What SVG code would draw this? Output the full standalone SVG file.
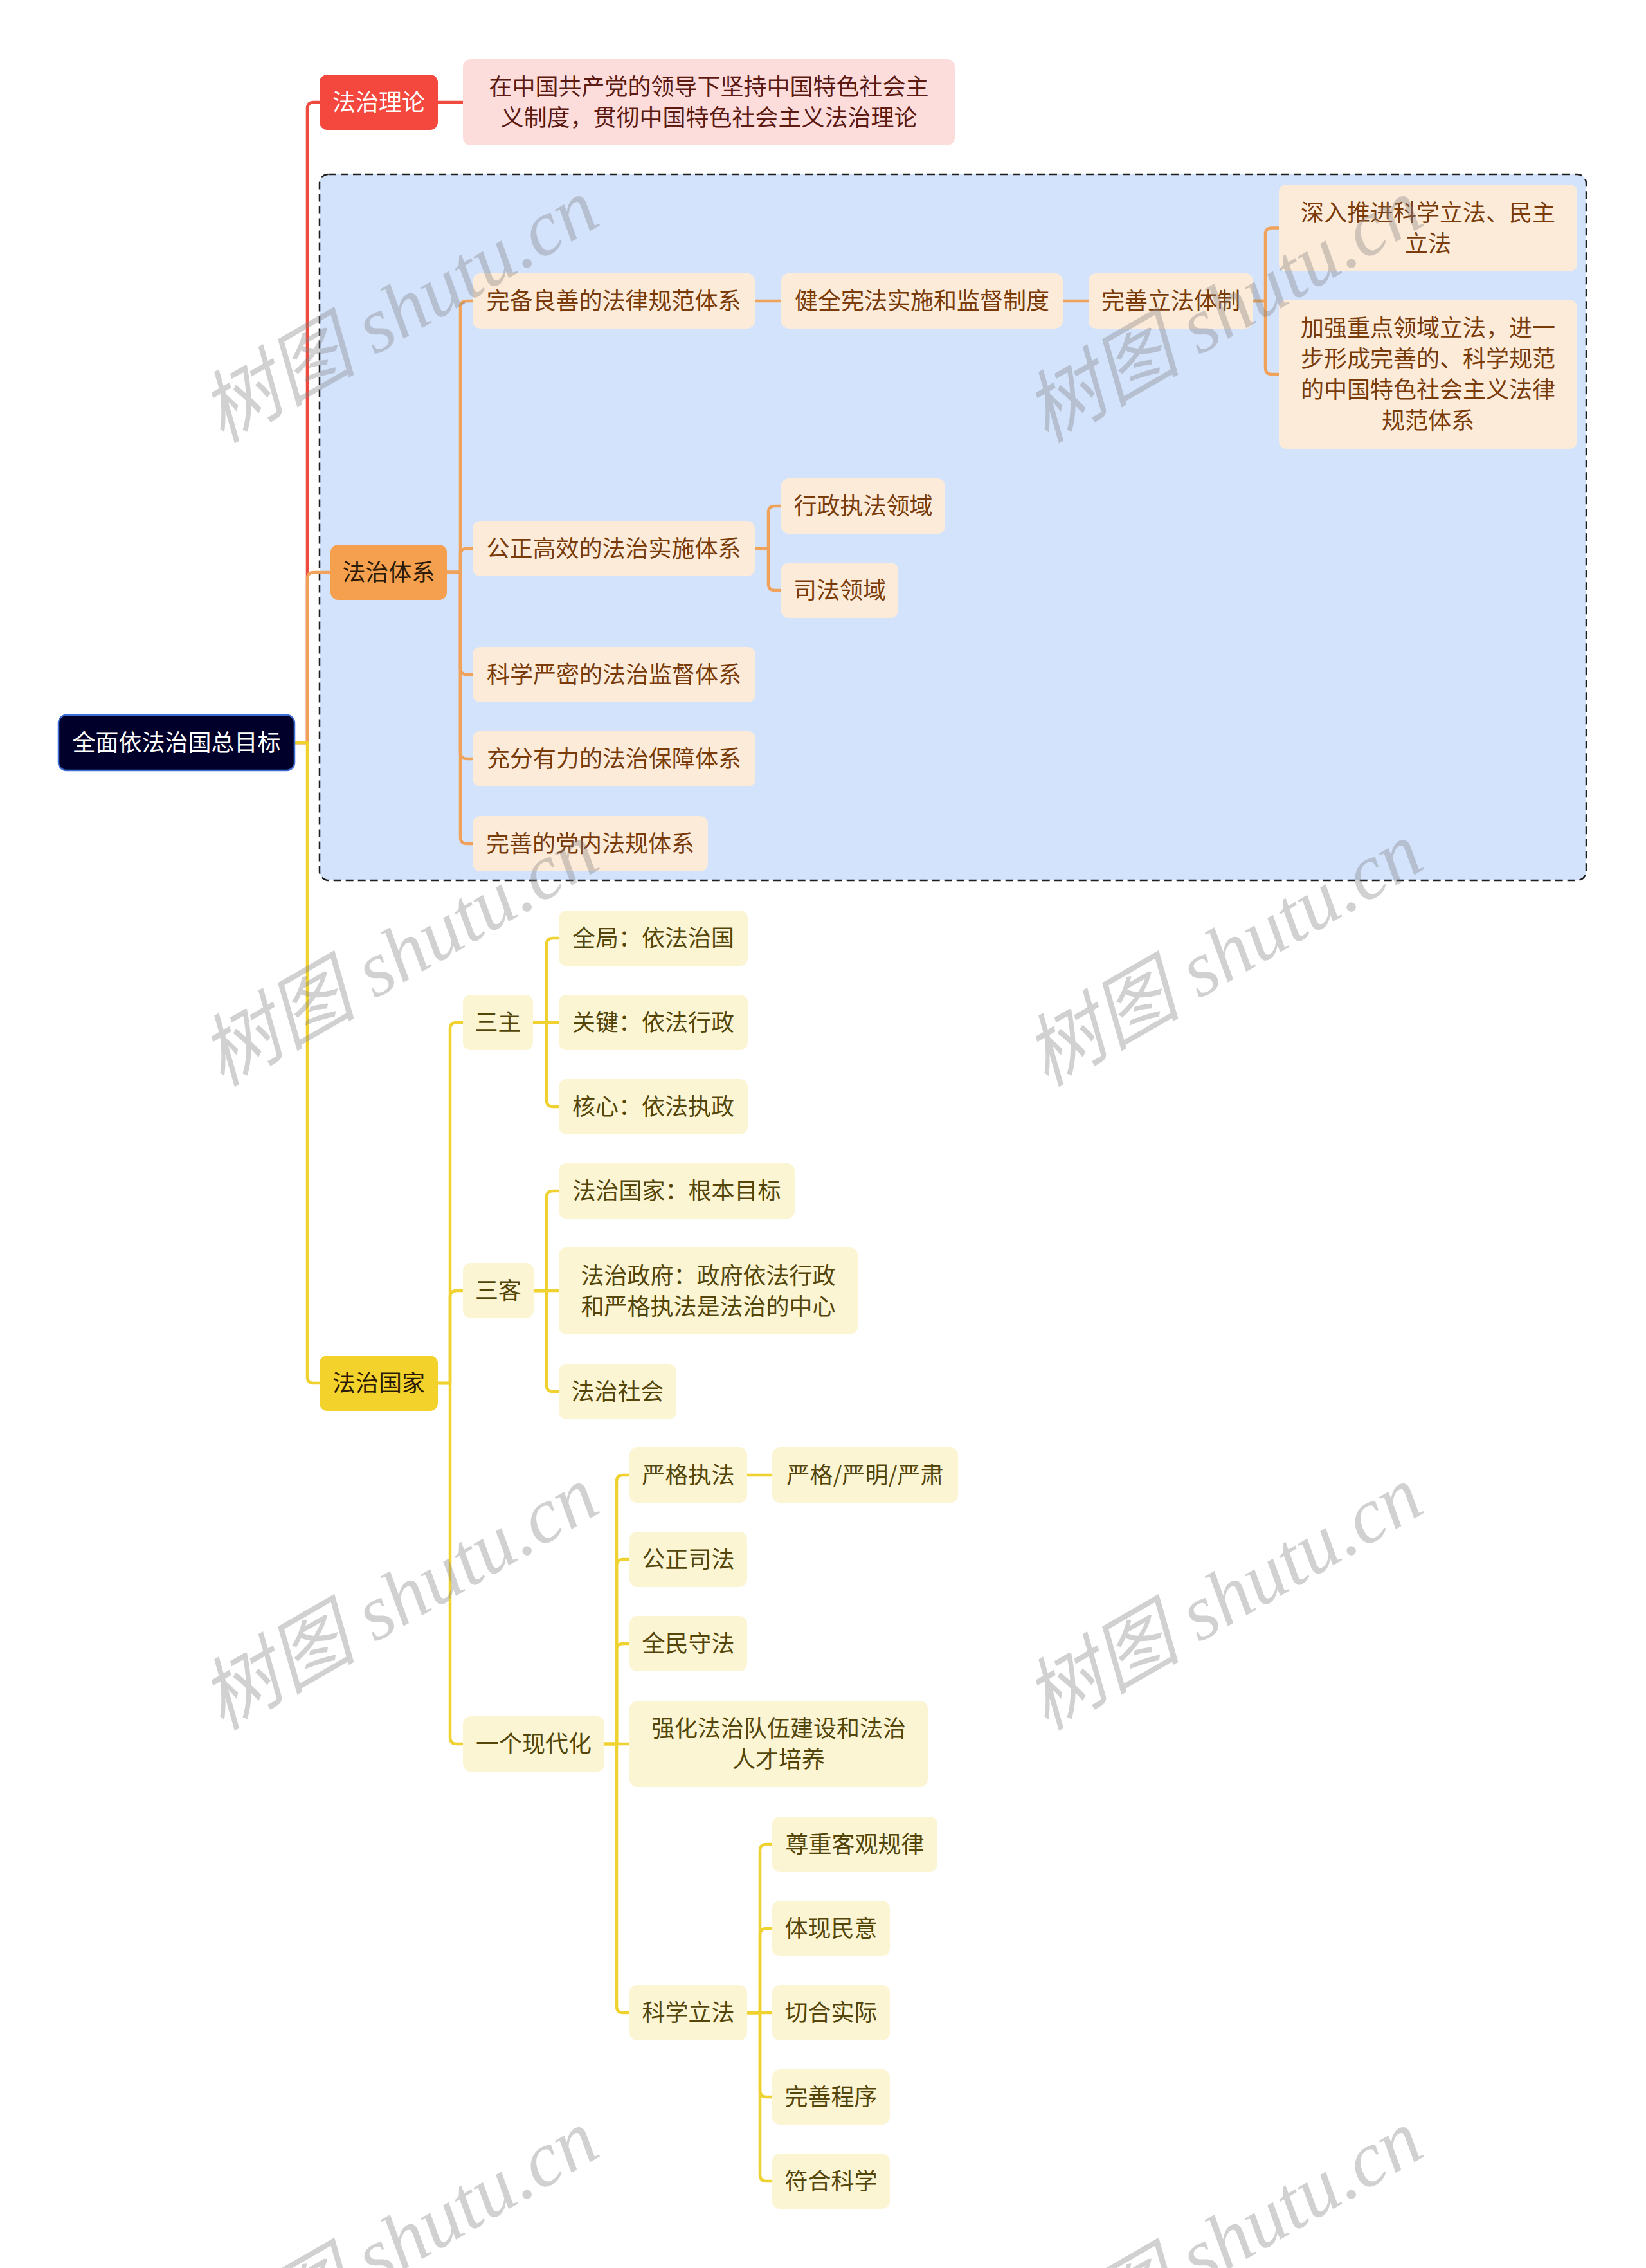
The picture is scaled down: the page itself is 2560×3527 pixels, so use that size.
<svg xmlns="http://www.w3.org/2000/svg" width="2560" height="3527" viewBox="0 0 2560 3527">
<style>
.t{font-family:"Noto Sans CJK SC","Noto Sans",sans-serif;font-size:36px;text-anchor:middle}
.w{fill:#ffffff}
.cr{fill:#5c1a12}
.co{fill:#7a3b0a}
.cy{fill:#54460a}
.cd{fill:#2b1a05}
.root{fill:#00002a;stroke:#3f6fd6;stroke-width:2.5}
.red{fill:#f4473e}
.pink{fill:#fddcdc}
.orange{fill:#f5a04f}
.peach{fill:#fdebd9}
.yellow{fill:#f3d22c}
.lyellow{fill:#fcf5d3}
.ln{fill:none;stroke-width:4.5;stroke-linejoin:round}
.lr{stroke:#ee4a3f}
.lo{stroke:#f0a25a}
.ly{stroke:#efd22f}
.wm{font-family:"Liberation Serif","Noto Sans CJK SC",serif;font-style:italic;font-size:122px;fill:#808080;fill-opacity:0.36}
</style>
<rect width="2560" height="3527" fill="#ffffff"/>
<g id="container">
<rect x="497" y="271" width="1970" height="1098" rx="14" fill="#d3e3fc" stroke="#1e1e1e" stroke-width="2.5" stroke-dasharray="12 7"/>
</g>
<g id="connectors" class="ln">
<path class="ln lr" d="M458,1155 H478 V169 Q478,159 488,159 H497"/>
<path class="ln lo" d="M458,1155 H478 V900 Q478,890 488,890 H514"/>
<path class="ln ly" d="M458,1155 H478 V2141 Q478,2151 488,2151 H497"/>
<path class="ln lr" d="M681,159 H720"/>
<path class="ln lo" d="M695,890 H716 V478 Q716,468 726,468 H735"/>
<path class="ln lo" d="M695,890 H716 V863 Q716,853 726,853 H735"/>
<path class="ln lo" d="M695,890 H716 V1039 Q716,1049 726,1049 H735"/>
<path class="ln lo" d="M695,890 H716 V1170 Q716,1180 726,1180 H735"/>
<path class="ln lo" d="M695,890 H716 V1302 Q716,1312 726,1312 H735"/>
<path class="ln lo" d="M1174,468 H1215"/>
<path class="ln lo" d="M1653,468 H1693"/>
<path class="ln lo" d="M1949,468 H1968 V364.5 Q1968,354.5 1978,354.5 H1989"/>
<path class="ln lo" d="M1949,468 H1968 V572 Q1968,582 1978,582 H1989"/>
<path class="ln lo" d="M1174,853 H1195 V797 Q1195,787 1205,787 H1215"/>
<path class="ln lo" d="M1174,853 H1195 V908 Q1195,918 1205,918 H1215"/>
<path class="ln ly" d="M681,2151 H700 V1600 Q700,1590 710,1590 H720"/>
<path class="ln ly" d="M681,2151 H700 V2017 Q700,2007 710,2007 H720"/>
<path class="ln ly" d="M681,2151 H700 V2702 Q700,2712 710,2712 H720"/>
<path class="ln ly" d="M829,1590 H850 V1469 Q850,1459 860,1459 H869"/>
<path class="ln ly" d="M829,1590 H869"/>
<path class="ln ly" d="M829,1590 H850 V1711 Q850,1721 860,1721 H869"/>
<path class="ln ly" d="M830,2007 H850 V1862 Q850,1852 860,1852 H869"/>
<path class="ln ly" d="M830,2007 H869"/>
<path class="ln ly" d="M830,2007 H850 V2154 Q850,2164 860,2164 H869"/>
<path class="ln ly" d="M940,2712 H959 V2304 Q959,2294 969,2294 H979"/>
<path class="ln ly" d="M940,2712 H959 V2435 Q959,2425 969,2425 H979"/>
<path class="ln ly" d="M940,2712 H959 V2566 Q959,2556 969,2556 H979"/>
<path class="ln ly" d="M940,2712 H979"/>
<path class="ln ly" d="M940,2712 H959 V3120 Q959,3130 969,3130 H979"/>
<path class="ln ly" d="M1162,2294 H1201"/>
<path class="ln ly" d="M1162,3130 H1182 V2878 Q1182,2868 1192,2868 H1201"/>
<path class="ln ly" d="M1162,3130 H1182 V3009 Q1182,2999 1192,2999 H1201"/>
<path class="ln ly" d="M1162,3130 H1201"/>
<path class="ln ly" d="M1162,3130 H1182 V3251 Q1182,3261 1192,3261 H1201"/>
<path class="ln ly" d="M1162,3130 H1182 V3382 Q1182,3392 1192,3392 H1201"/>
</g>
<g id="root"><rect class="root" x="91" y="1112" width="367" height="86" rx="12"/><text class="t w" x="274.5" y="1168">全面依法治国总目标</text></g>
<g id="n-lilun"><rect class="red" x="497" y="116" width="184" height="86" rx="12"/><text class="t w" x="589" y="172">法治理论</text></g>
<g id="n-lilun-1"><rect class="pink" x="720" y="92" width="765" height="134" rx="12"/><text class="t cr" x="1102.5" y="148">在中国共产党的领导下坚持中国特色社会主</text><text class="t cr" x="1102.5" y="196">义制度，贯彻中国特色社会主义法治理论</text></g>
<g id="n-tixi"><rect class="orange" x="514" y="847" width="181" height="86" rx="12"/><text class="t cd" x="604.5" y="903">法治体系</text></g>
<g id="n-wanbei"><rect class="peach" x="735" y="425" width="439" height="86" rx="12"/><text class="t co" x="954.5" y="481">完备良善的法律规范体系</text></g>
<g id="n-jianquan"><rect class="peach" x="1215" y="425" width="438" height="86" rx="12"/><text class="t co" x="1434" y="481">健全宪法实施和监督制度</text></g>
<g id="n-wanshan-lifa"><rect class="peach" x="1693" y="425" width="256" height="86" rx="12"/><text class="t co" x="1821" y="481">完善立法体制</text></g>
<g id="n-shenru"><rect class="peach" x="1989" y="287" width="464" height="135" rx="12"/><text class="t co" x="2221" y="343.5">深入推进科学立法、民主</text><text class="t co" x="2221" y="391.5">立法</text></g>
<g id="n-jiaqiang"><rect class="peach" x="1989" y="466" width="464" height="232" rx="12"/><text class="t co" x="2221" y="523">加强重点领域立法，进一</text><text class="t co" x="2221" y="571">步形成完善的、科学规范</text><text class="t co" x="2221" y="619">的中国特色社会主义法律</text><text class="t co" x="2221" y="667">规范体系</text></g>
<g id="n-gongzheng"><rect class="peach" x="735" y="810" width="439" height="86" rx="12"/><text class="t co" x="954.5" y="866">公正高效的法治实施体系</text></g>
<g id="n-xingzheng"><rect class="peach" x="1215" y="744" width="255" height="86" rx="12"/><text class="t co" x="1342.5" y="800">行政执法领域</text></g>
<g id="n-sifa"><rect class="peach" x="1215" y="875" width="182" height="86" rx="12"/><text class="t co" x="1306" y="931">司法领域</text></g>
<g id="n-jiandu"><rect class="peach" x="735" y="1006" width="440" height="86" rx="12"/><text class="t co" x="955" y="1062">科学严密的法治监督体系</text></g>
<g id="n-baozhang"><rect class="peach" x="735" y="1137" width="440" height="86" rx="12"/><text class="t co" x="955" y="1193">充分有力的法治保障体系</text></g>
<g id="n-dangnei"><rect class="peach" x="735" y="1269" width="366" height="86" rx="12"/><text class="t co" x="918" y="1325">完善的党内法规体系</text></g>
<g id="n-guojia"><rect class="yellow" x="497" y="2108" width="184" height="86" rx="12"/><text class="t cd" x="589" y="2164">法治国家</text></g>
<g id="n-sanzhu"><rect class="lyellow" x="720" y="1547" width="109" height="86" rx="12"/><text class="t cy" x="774.5" y="1603">三主</text></g>
<g id="n-quanju"><rect class="lyellow" x="869" y="1416" width="294" height="86" rx="12"/><text class="t cy" x="1016" y="1472">全局：依法治国</text></g>
<g id="n-guanjian"><rect class="lyellow" x="869" y="1547" width="294" height="86" rx="12"/><text class="t cy" x="1016" y="1603">关键：依法行政</text></g>
<g id="n-hexin"><rect class="lyellow" x="869" y="1678" width="294" height="86" rx="12"/><text class="t cy" x="1016" y="1734">核心：依法执政</text></g>
<g id="n-sanke"><rect class="lyellow" x="720" y="1964" width="110" height="86" rx="12"/><text class="t cy" x="775" y="2020">三客</text></g>
<g id="n-genben"><rect class="lyellow" x="869" y="1809" width="367" height="86" rx="12"/><text class="t cy" x="1052.5" y="1865">法治国家：根本目标</text></g>
<g id="n-zhengfu"><rect class="lyellow" x="869" y="1940" width="465" height="135" rx="12"/><text class="t cy" x="1101.5" y="1996.5">法治政府：政府依法行政</text><text class="t cy" x="1101.5" y="2044.5">和严格执法是法治的中心</text></g>
<g id="n-shehui"><rect class="lyellow" x="869" y="2121" width="183" height="86" rx="12"/><text class="t cy" x="960.5" y="2177">法治社会</text></g>
<g id="n-xiandaihua"><rect class="lyellow" x="720" y="2669" width="220" height="86" rx="12"/><text class="t cy" x="830" y="2725">一个现代化</text></g>
<g id="n-yange"><rect class="lyellow" x="979" y="2251" width="183" height="86" rx="12"/><text class="t cy" x="1070.5" y="2307">严格执法</text></g>
<g id="n-yange-1"><rect class="lyellow" x="1201" y="2251" width="289" height="86" rx="12"/><text class="t cy" x="1345.5" y="2307">严格/严明/严肃</text></g>
<g id="n-gongzheng-sifa"><rect class="lyellow" x="979" y="2382" width="183" height="86" rx="12"/><text class="t cy" x="1070.5" y="2438">公正司法</text></g>
<g id="n-quanmin"><rect class="lyellow" x="979" y="2513" width="183" height="86" rx="12"/><text class="t cy" x="1070.5" y="2569">全民守法</text></g>
<g id="n-qianghua"><rect class="lyellow" x="979" y="2645" width="464" height="134" rx="12"/><text class="t cy" x="1211" y="2701">强化法治队伍建设和法治</text><text class="t cy" x="1211" y="2749">人才培养</text></g>
<g id="n-kexue-lifa"><rect class="lyellow" x="979" y="3087" width="183" height="86" rx="12"/><text class="t cy" x="1070.5" y="3143">科学立法</text></g>
<g id="n-zunzhong"><rect class="lyellow" x="1201" y="2825" width="257" height="86" rx="12"/><text class="t cy" x="1329.5" y="2881">尊重客观规律</text></g>
<g id="n-tixian"><rect class="lyellow" x="1201" y="2956" width="183" height="86" rx="12"/><text class="t cy" x="1292.5" y="3012">体现民意</text></g>
<g id="n-qiehe"><rect class="lyellow" x="1201" y="3087" width="183" height="86" rx="12"/><text class="t cy" x="1292.5" y="3143">切合实际</text></g>
<g id="n-chengxu"><rect class="lyellow" x="1201" y="3218" width="183" height="86" rx="12"/><text class="t cy" x="1292.5" y="3274">完善程序</text></g>
<g id="n-fuhe"><rect class="lyellow" x="1201" y="3349" width="183" height="86" rx="12"/><text class="t cy" x="1292.5" y="3405">符合科学</text></g>
<g id="watermarks">
<text class="wm" transform="translate(345,690) rotate(-30)">树图 shutu.cn</text>
<text class="wm" transform="translate(1627,690) rotate(-30)">树图 shutu.cn</text>
<text class="wm" transform="translate(345,1691) rotate(-30)">树图 shutu.cn</text>
<text class="wm" transform="translate(1627,1691) rotate(-30)">树图 shutu.cn</text>
<text class="wm" transform="translate(345,2692) rotate(-30)">树图 shutu.cn</text>
<text class="wm" transform="translate(1627,2692) rotate(-30)">树图 shutu.cn</text>
<text class="wm" transform="translate(345,3693) rotate(-30)">树图 shutu.cn</text>
<text class="wm" transform="translate(1627,3693) rotate(-30)">树图 shutu.cn</text>
</g>
</svg>
